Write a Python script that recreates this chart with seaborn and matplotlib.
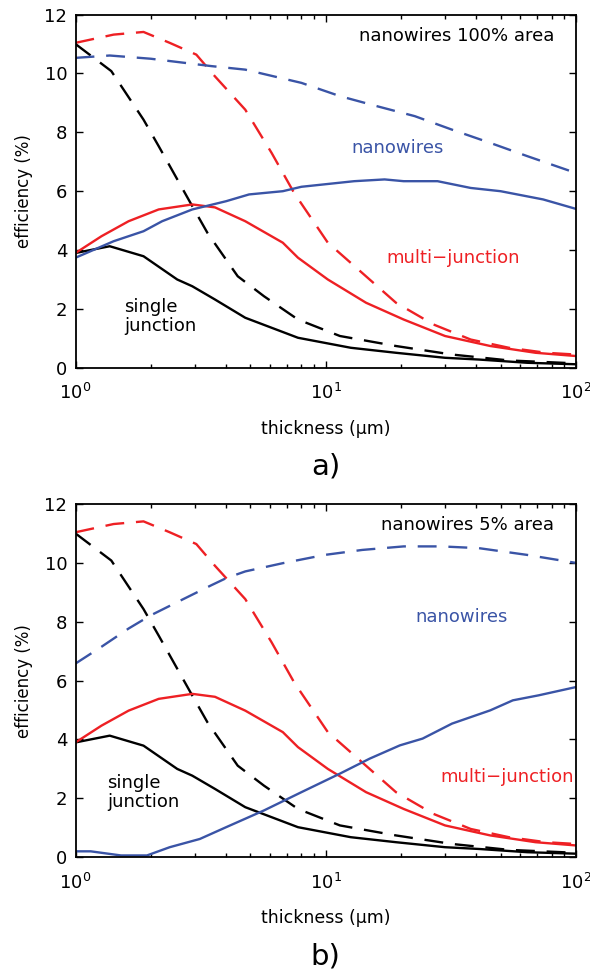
import matplotlib
matplotlib.use("Agg")
import matplotlib.pyplot as plt
import matplotlib.transforms as mtrans
import pandas as pd
import seaborn as sns
from matplotlib.ticker import LogLocator, LogFormatterSciNotation

sns.set_theme(style="white")
plt.rcParams["font.family"] = ["DejaVu Sans"]
plt.rcParams["text.color"] = "black"
plt.rcParams["axes.labelcolor"] = "black"
plt.rcParams["xtick.color"] = "black"
plt.rcParams["ytick.color"] = "black"

RED = "#ee2024"
BLUE = "#3a54a6"
BLACK = "#000000"

# single junction, solid (same in both panels)
sj_x = [1.0, 1.37, 1.87, 2.55, 2.93, 3.61, 4.77, 6.08, 7.75, 12.6, 19.1, 30, 41, 64, 100]
sj_y = [3.9, 4.13, 3.79, 3.0, 2.77, 2.32, 1.70, 1.36, 1.02, 0.68, 0.51, 0.34, 0.28, 0.17, 0.12]

# single junction, dashed
sjd_x = [1.0, 1.39, 1.87, 2.15, 2.93, 3.37, 4.45, 5.67, 7.75, 11.4, 19.1, 32, 54, 100]
sjd_y = [11.0, 10.08, 8.43, 7.53, 5.49, 4.58, 3.11, 2.43, 1.64, 1.08, 0.74, 0.45, 0.25, 0.15]

# multi-junction, solid
mj_x = [1.0, 1.27, 1.63, 2.15, 2.93, 3.61, 4.77, 6.74, 7.75, 10.2, 14.5, 20.5, 30, 45.5, 69, 100]
mj_y = [3.9, 4.47, 4.98, 5.38, 5.55, 5.45, 4.98, 4.25, 3.74, 3.0, 2.21, 1.64, 1.08, 0.74, 0.51, 0.40]

# multi-junction, dashed
mjd_x = [1.0, 1.42, 1.87, 2.38, 3.04, 3.61, 4.77, 6.08, 7.48, 10.2, 13.5, 19.1, 27, 38, 54, 76, 100]
mjd_y = [11.04, 11.32, 11.41, 11.04, 10.64, 9.9, 8.77, 7.3, 5.94, 4.25, 3.34, 2.21, 1.47, 0.96, 0.68, 0.51, 0.45]

# nanowires 100% area
nwa_x = [1.0, 1.42, 1.87, 2.22, 2.93, 4.0, 4.94, 6.74, 8.0, 13, 17.2, 20.5, 28, 38, 50, 74, 100]
nwa_y = [3.74, 4.30, 4.64, 4.98, 5.38, 5.66, 5.89, 6.0, 6.15, 6.34, 6.40, 6.34, 6.34, 6.11, 6.0, 5.72, 5.40]
nwad_x = [1.0, 1.37, 2.0, 3.49, 4.77, 8.0, 11.4, 16, 22.7, 32, 45.5, 64, 100]
nwad_y = [10.53, 10.61, 10.5, 10.25, 10.13, 9.68, 9.23, 8.89, 8.55, 8.09, 7.64, 7.19, 6.62]

# nanowires 5% area
nwb_x = [1.0, 1.15, 1.52, 1.93, 2.38, 3.14, 4.0, 5.67, 8.0, 11.4, 15, 19.8, 24.4, 32, 45.5, 56, 71, 100]
nwb_y = [0.2, 0.2, 0.06, 0.06, 0.34, 0.62, 1.02, 1.59, 2.21, 2.84, 3.35, 3.80, 4.03, 4.54, 4.99, 5.33, 5.50, 5.78]
nwbd_x = [1.0, 1.27, 1.63, 2.0, 2.64, 3.49, 4.0, 4.77, 6.74, 9.9, 14, 20.5, 29, 41, 64, 100]
nwbd_y = [6.58, 7.15, 7.77, 8.22, 8.73, 9.24, 9.48, 9.71, 9.99, 10.27, 10.44, 10.56, 10.56, 10.5, 10.27, 10.0]

panels = [
    dict(nw=(nwa_x, nwa_y), nwd=(nwad_x, nwad_y), title="nanowires 100% area",
         nw_lbl=(0.644, 7.47), mj_lbl=(0.754, 3.74), sj_lbl=(0.098, 1.75), tag="a)"),
    dict(nw=(nwb_x, nwb_y), nwd=(nwbd_x, nwbd_y), title="nanowires 5% area",
         nw_lbl=(0.772, 8.17), mj_lbl=(0.863, 2.74), sj_lbl=(0.0625, 2.21), tag="b)"),
]

fig = plt.figure(figsize=(5.9, 9.73), dpi=100)
axes = [fig.add_axes([0.128, 0.622, 0.848, 0.363]),
        fig.add_axes([0.128, 0.119, 0.848, 0.363])]

for ax, p in zip(axes, panels):
    curves = [
        (sj_x, sj_y, BLACK, "-"), (sjd_x, sjd_y, BLACK, "--"),
        (mj_x, mj_y, RED, "-"), (mjd_x, mjd_y, RED, "--"),
        (p["nw"][0], p["nw"][1], BLUE, "-"), (p["nwd"][0], p["nwd"][1], BLUE, "--"),
    ]
    for x, y, c, ls in curves:
        df = pd.DataFrame({"thickness": x, "eff": y})
        sns.lineplot(data=df, x="thickness", y="eff", color=c, ax=ax,
                     linewidth=1.7, sort=False, legend=False)
        if ls == "--":
            ax.lines[-1].set_dashes((8, 5))
    ax.set_xscale("log")
    ax.set_xlim(1, 100)
    ax.set_ylim(0, 12)
    ax.set_yticks(range(0, 13, 2))
    ax.xaxis.set_major_locator(LogLocator(base=10))
    ax.xaxis.set_major_formatter(LogFormatterSciNotation())
    ax.xaxis.set_minor_locator(LogLocator(base=10, subs=range(2, 10)))
    ax.tick_params(which="both", direction="in", top=True, right=True,
                   bottom=True, left=True, labelsize=13, color="black")
    ax.tick_params(which="major", length=5, width=1)
    ax.tick_params(which="minor", length=3, width=1)
    ax.tick_params(axis="x", which="major", pad=11)
    ax.tick_params(axis="y", which="major", pad=6)
    for s in ax.spines.values():
        s.set_color("black")
        s.set_linewidth(1.3)
    ax.set_xlabel("thickness (μm)", fontsize=12.5, labelpad=12)
    ax.set_ylabel("efficiency (%)", fontsize=12, labelpad=8)
    ax.grid(False)

    # pull the rightmost decade label in a little, as in the original
    fig.canvas.draw()
    lbls = ax.get_xticklabels()
    lbls[-1].set_transform(lbls[-1].get_transform()
                           + mtrans.ScaledTranslation(-5 / 72, 0, fig.dpi_scale_trans))

    ax.text(0.957, 0.94, p["title"], transform=ax.transAxes, ha="right", va="center",
            fontsize=13, color="black")
    tr = ax.get_yaxis_transform()
    ax.text(p["nw_lbl"][0], p["nw_lbl"][1], "nanowires", transform=tr,
            ha="center", va="center", fontsize=13, color=BLUE)
    ax.text(p["mj_lbl"][0], p["mj_lbl"][1], "multi\u2212junction", transform=tr,
            ha="center", va="center", fontsize=13, color=RED)
    ax.text(p["sj_lbl"][0], p["sj_lbl"][1], "single\njunction", transform=tr,
            ha="left", va="center", fontsize=13, color="black", linespacing=1.05)
    ax.text(0.5, -0.28, p["tag"], transform=ax.transAxes, ha="center", va="center",
            fontsize=21, color="black")

fig.savefig("out.png", dpi=100)
